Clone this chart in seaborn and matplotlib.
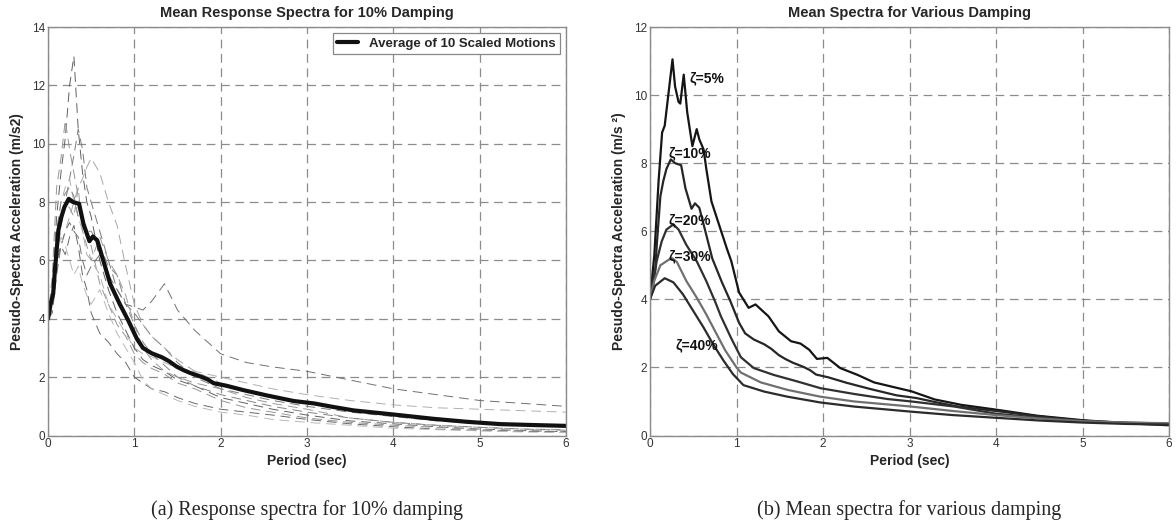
import numpy as np
import matplotlib
matplotlib.use('Agg')
import matplotlib.pyplot as plt
import seaborn as sns

sns.set_style('white')
plt.rcParams['font.family'] = ['Liberation Sans', 'DejaVu Sans']

# periods used for the 10 scaled motions (sec)
t_motion = [0, 0.05, 0.1, 0.15, 0.2, 0.25, 0.3, 0.35, 0.4, 0.45, 0.5, 0.6, 0.7, 0.8, 0.9,
            1.0, 1.1, 1.2, 1.35, 1.5, 1.7, 2.0, 2.3, 2.6, 3.0, 3.5, 4.0, 4.5, 5.0, 5.5, 6.0]

m1 = [4.0, 5.0, 7.5, 9.0, 10.2, 12.0, 13.0, 10.5, 9.0, 8.0, 7.5, 6.0, 5.0, 4.2, 3.6,
      3.0, 2.6, 2.4, 2.2, 1.9, 1.7, 1.3, 1.1, 0.9, 0.7, 0.5, 0.4, 0.3, 0.22, 0.17, 0.13]
m2 = [4.0, 5.5, 8.5, 9.5, 10.8, 9.8, 9.0, 8.2, 7.5, 6.8, 6.5, 5.2, 4.5, 3.8, 3.4,
      2.8, 2.5, 2.3, 2.1, 1.8, 1.6, 1.2, 0.95, 0.8, 0.6, 0.45, 0.35, 0.28, 0.2, 0.16, 0.12]
m3 = [4.0, 4.3, 6.0, 7.2, 8.0, 8.8, 9.6, 10.5, 9.8, 8.5, 8.0, 7.0, 6.0, 5.0, 4.5,
      4.2, 3.8, 3.4, 3.0, 2.5, 2.0, 1.6, 1.4, 1.2, 1.0, 0.8, 0.65, 0.5, 0.42, 0.37, 0.33]
m4 = [4.0, 4.4, 5.8, 6.5, 7.0, 7.5, 8.0, 8.5, 8.8, 9.2, 9.5, 9.0, 8.0, 7.2, 5.8,
      4.5, 3.8, 3.4, 3.0, 2.6, 2.2, 1.8, 1.5, 1.3, 1.1, 0.85, 0.7, 0.55, 0.45, 0.38, 0.32]
m5 = [4.0, 4.2, 5.5, 6.5, 7.0, 7.3, 7.0, 6.8, 6.0, 5.5, 5.8, 6.2, 5.5, 5.0, 4.5,
      4.4, 4.3, 4.6, 5.2, 4.3, 3.6, 2.8, 2.5, 2.35, 2.2, 1.9, 1.6, 1.4, 1.2, 1.1, 1.0]
m6 = [4.0, 4.8, 7.0, 8.0, 8.5, 8.8, 8.0, 7.5, 7.0, 6.2, 6.0, 5.5, 4.5, 4.0, 3.5,
      3.0, 2.8, 2.7, 2.5, 2.3, 2.2, 2.0, 1.8, 1.6, 1.4, 1.2, 1.05, 0.95, 0.9, 0.85, 0.8]
m7 = [4.0, 4.5, 6.0, 6.5, 6.2, 6.8, 7.2, 6.5, 5.5, 5.0, 4.2, 3.5, 3.2, 2.8, 2.5,
      2.0, 1.8, 1.6, 1.5, 1.3, 1.1, 0.9, 0.8, 0.7, 0.55, 0.4, 0.3, 0.22, 0.17, 0.14, 0.12]
m8 = [4.0, 4.3, 6.5, 7.5, 8.0, 7.8, 7.5, 8.5, 7.0, 6.5, 6.0, 6.8, 6.0, 5.5, 4.8,
      3.8, 3.0, 2.6, 2.2, 2.0, 1.8, 1.6, 1.3, 1.1, 0.9, 0.6, 0.45, 0.35, 0.28, 0.22, 0.2]
m9 = [4.0, 4.5, 6.2, 6.8, 6.5, 6.0, 5.5, 5.8, 5.2, 4.8, 4.5, 5.0, 4.2, 3.5, 3.0,
      2.5, 1.9, 1.6, 1.4, 1.2, 1.0, 0.8, 0.7, 0.55, 0.45, 0.35, 0.25, 0.2, 0.16, 0.12, 0.1]
m10 = [4.0, 4.5, 7.0, 8.0, 8.3, 8.5, 8.2, 7.5, 7.5, 7.0, 7.0, 6.5, 5.8, 5.5, 4.5,
       3.8, 3.2, 2.8, 2.4, 2.0, 1.7, 1.4, 1.2, 1.0, 0.8, 0.6, 0.45, 0.35, 0.28, 0.22, 0.18]
motions = [m1, m2, m3, m4, m5, m6, m7, m8, m9, m10]
motion_grays = ['#606060', '#959595', '#7a7a7a', '#a5a5a5', '#707070',
                '#b0b0b0', '#686868', '#999999', '#b8b8b8', '#858585']

# mean spectrum, 10% damping (same curve on both panels)
t10 = [0, 0.03, 0.06, 0.08, 0.12, 0.155, 0.19, 0.24, 0.29, 0.36, 0.41, 0.48, 0.52, 0.57,
       0.64, 0.72, 0.83, 0.93, 1.03, 1.1, 1.2, 1.32, 1.4, 1.49, 1.57, 1.65, 1.77, 1.85,
       1.92, 2.06, 2.27, 2.54, 2.85, 3.08, 3.3, 3.54, 4.0, 4.47, 4.85, 5.24, 5.6, 6.0]
sa10 = [4.0, 4.5, 4.86, 5.66, 7.03, 7.49, 7.83, 8.11, 8.0, 7.94, 7.26, 6.66, 6.82, 6.69,
        6.0, 5.2, 4.51, 3.94, 3.31, 3.0, 2.82, 2.68, 2.55, 2.36, 2.24, 2.14, 2.02, 1.92,
        1.79, 1.71, 1.55, 1.37, 1.18, 1.1, 0.98, 0.86, 0.72, 0.57, 0.47, 0.39, 0.36, 0.33]

# other damping ratios
t5 = [0, 0.05, 0.1, 0.14, 0.17, 0.26, 0.29, 0.33, 0.35, 0.39, 0.43, 0.49, 0.54, 0.57,
      0.62, 0.65, 0.71, 0.81, 0.89, 0.94, 1.03, 1.14, 1.22, 1.37, 1.49, 1.63, 1.74, 1.84,
      1.93, 2.05, 2.2, 2.4, 2.59, 2.82, 3.02, 3.29, 3.6, 4.0, 4.48, 5.0, 5.5, 6.0]
sa5 = [4.0, 5.3, 7.5, 8.9, 9.1, 11.05, 10.25, 9.8, 9.75, 10.6, 9.5, 8.5, 9.0, 8.7,
       8.4, 7.85, 6.88, 6.1, 5.48, 5.12, 4.2, 3.75, 3.85, 3.5, 3.06, 2.77, 2.7, 2.52,
       2.25, 2.28, 1.98, 1.78, 1.56, 1.42, 1.3, 1.06, 0.9, 0.76, 0.58, 0.45, 0.36, 0.3]
t20 = [0, 0.04, 0.077, 0.135, 0.19, 0.27, 0.33, 0.42, 0.54, 0.65, 0.75, 0.82, 0.94,
       1.05, 1.2, 1.43, 1.7, 1.97, 2.36, 2.75, 3.02, 3.52, 4.0, 4.5, 5.0, 5.5, 6.0]
sa20 = [4.0, 4.5, 5.12, 5.7, 6.05, 6.2, 6.05, 5.6, 5.12, 4.54, 3.95, 3.5, 2.85,
        2.3, 1.98, 1.78, 1.59, 1.39, 1.22, 1.07, 1.0, 0.85, 0.64, 0.52, 0.43, 0.38, 0.35]
t30 = [0, 0.05, 0.12, 0.25, 0.31, 0.42, 0.54, 0.65, 0.77, 0.87, 1.0, 1.05, 1.28, 1.59,
       1.97, 2.36, 3.02, 3.5, 4.0, 4.5, 5.0, 5.5, 6.0]
sa30 = [4.0, 4.55, 5.0, 5.22, 5.1, 4.54, 4.05, 3.56, 2.98, 2.5, 2.0, 1.85, 1.56, 1.34,
        1.14, 1.0, 0.85, 0.72, 0.6, 0.5, 0.42, 0.38, 0.36]
t40 = [0, 0.06, 0.17, 0.27, 0.38, 0.5, 0.62, 0.73, 0.85, 0.96, 1.08, 1.32, 1.59,
       1.97, 2.36, 3.02, 3.5, 4.0, 4.5, 5.0, 5.5, 6.0]
sa40 = [4.0, 4.4, 4.62, 4.5, 4.15, 3.66, 3.17, 2.68, 2.2, 1.8, 1.48, 1.29, 1.14,
        0.97, 0.85, 0.7, 0.6, 0.52, 0.44, 0.38, 0.34, 0.32]

damp_t = [t5, t10, t20, t30, t40]
damp_sa = [sa5, sa10, sa20, sa30, sa40]
damp_colors = ['#151515', '#262626', '#303030', '#707070', '#2b2b2b']
damp_labels = ['ζ=5%', 'ζ=10%', 'ζ=20%', 'ζ=30%', 'ζ=40%']
label_pos = [(0.46, 10.5), (0.21, 8.3), (0.21, 6.33), (0.21, 5.27), (0.29, 2.66)]

fig = plt.figure(figsize=(11.76, 5.26), dpi=100)
ax1 = fig.add_axes([48 / 1176, 1 - 435.5 / 526, 518 / 1176, 408.5 / 526])
ax2 = fig.add_axes([650 / 1176, 1 - 435.5 / 526, 519 / 1176, 408.5 / 526])

for m, c in zip(motions, motion_grays):
    sns.lineplot(x=t_motion, y=m, ax=ax1, color=c, lw=0.7,
                 linestyle=(0, (10, 6)), label='_nolegend_')
sns.lineplot(x=t10, y=sa10, ax=ax1, color='#111111', lw=3.0,
             label='Average of 10 Scaled Motions')

for t, sa, c in zip(damp_t, damp_sa, damp_colors):
    sns.lineplot(x=t, y=sa, ax=ax2, color=c, lw=1.6, label='_nolegend_')
for txt, (px, py) in zip(damp_labels, label_pos):
    ax2.text(px, py, txt, fontsize=10, fontweight='bold', va='center', ha='left',
             color='#111111')

for ax, ymax in [(ax1, 14), (ax2, 12)]:
    ax.set_xlim(0, 6)
    ax.set_ylim(0, ymax)
    ax.set_xticks(range(0, 7))
    ax.set_yticks(range(0, ymax + 1, 2))
    ax.grid(True, color='#8c8c8c', linestyle=(0, (7, 4.5)), lw=0.9)
    ax.tick_params(direction='in', length=3, labelsize=8.5, labelcolor='#333333',
                   color='#888888', pad=2)
    for s in ax.spines.values():
        s.set_color('#8a8a8a')
        s.set_linewidth(1.0)
    ax.set_xlabel('Period (sec)', fontsize=10, fontweight='bold', labelpad=3)

ax1.set_title('Mean Response Spectra for 10% Damping', fontsize=10.5,
              fontweight='bold', pad=7)
ax2.set_title('Mean Spectra for Various Damping', fontsize=10.5,
              fontweight='bold', pad=7)
ax1.set_ylabel('Pesudo-Spectra Acceleration (m/s2)', fontsize=10, fontweight='bold',
               labelpad=6)
ax2.set_ylabel('Pesudo-Spectra Acceleration (m/s ²)', fontsize=10, fontweight='bold',
               labelpad=6)

leg = ax1.legend(loc='upper right', prop={'weight': 'bold', 'size': 9.5},
                 fancybox=False, framealpha=1, edgecolor='#888888',
                 handlelength=1.6, borderaxespad=0.45, borderpad=0.35)
leg.get_frame().set_linewidth(0.9)
if ax2.get_legend() is not None:
    ax2.get_legend().remove()

fig.text(307 / 1176, 1 - 510 / 526, '(a) Response spectra for 10% damping',
         family='Liberation Serif', fontsize=14.5, ha='center', va='center')
fig.text(909 / 1176, 1 - 510 / 526, '(b) Mean spectra for various damping',
         family='Liberation Serif', fontsize=14.5, ha='center', va='center')

fig.savefig('out.png', dpi=100, facecolor='white')
